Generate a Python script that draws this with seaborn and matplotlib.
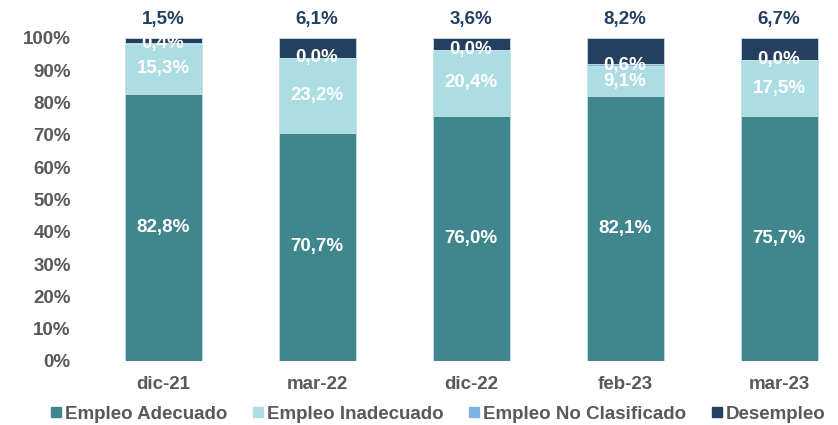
import matplotlib.pyplot as plt
import pandas as pd
import seaborn as sns

periodos = ["dic-21", "mar-22", "dic-22", "feb-23", "mar-23"]
adecuado = [82.8, 70.7, 76.0, 82.1, 75.7]
inadecuado = [15.3, 23.2, 20.4, 9.1, 17.5]
no_clasificado = [0.4, 0.0, 0.0, 0.6, 0.0]
desempleo = [1.5, 6.1, 3.6, 8.2, 6.7]

series = ["Empleo Adecuado", "Empleo Inadecuado", "Empleo No Clasificado", "Desempleo"]
colores = ["#3F878C", "#ACDDE2", "#7FB2E6", "#253F5F"]

df = pd.DataFrame({"periodo": periodos, series[0]: adecuado, series[1]: inadecuado,
                   series[2]: no_clasificado, series[3]: desempleo})
cum = df[series].cumsum(axis=1)

sns.set_style("white")
plt.rcParams['font.family'] = ['Liberation Sans', 'DejaVu Sans']
gris = "#595959"

fig = plt.figure(figsize=(8.38, 4.25), dpi=100)
ax = fig.add_axes([100 / 838, 0.1506, 1 - 100 / 838, 0.76])

# stacked bars drawn as overlapping cumulative totals, top layer first
for s, c in reversed(list(zip(series, colores))):
    sns.barplot(x=df["periodo"], y=cum[s], color=c, width=0.5, ax=ax,
                edgecolor="#C9E4EA", linewidth=0.6, saturation=1)

for i in range(len(periodos)):
    base = 0
    for s in series[:3]:
        v = df[s][i]
        ax.text(i, base + v / 2, f"{v:.1f}%".replace(".", ","), ha="center", va="center",
                color="white", fontsize=13.5, fontweight="bold")
        base += v
    ax.text(i, 103.2, f"{df['Desempleo'][i]:.1f}%".replace(".", ","), ha="center",
            va="bottom", color="#243F60", fontsize=13.5, fontweight="bold")

ax.set_xlim(-63 / 154, 4 + 59 / 154)
ax.set_ylim(0, 100)
ax.set_yticks(range(0, 101, 10))
ax.set_yticklabels([f"{t}%" for t in range(0, 101, 10)])
ax.set_xlabel("")
ax.set_ylabel("")
ax.tick_params(axis="y", length=0, pad=21, labelsize=13.5, labelcolor=gris)
ax.tick_params(axis="x", length=0, pad=11, labelsize=13.5, labelcolor=gris)
for lab in ax.get_xticklabels() + ax.get_yticklabels():
    lab.set_fontweight("bold")
sns.despine(ax=ax, left=True, bottom=True)

handles = [plt.Line2D([], [], marker="s", linestyle="", color=c, markersize=7) for c in colores]
leg = fig.legend(handles, series, loc="lower center", ncol=4, bbox_to_anchor=(0.522, -0.035),
                 frameon=False, handletextpad=0.15, columnspacing=1.26, handlelength=0.7,
                 prop={"size": 13.5, "weight": "bold"})
for t in leg.get_texts():
    t.set_color(gris)

fig.savefig("out.png", dpi=100)
